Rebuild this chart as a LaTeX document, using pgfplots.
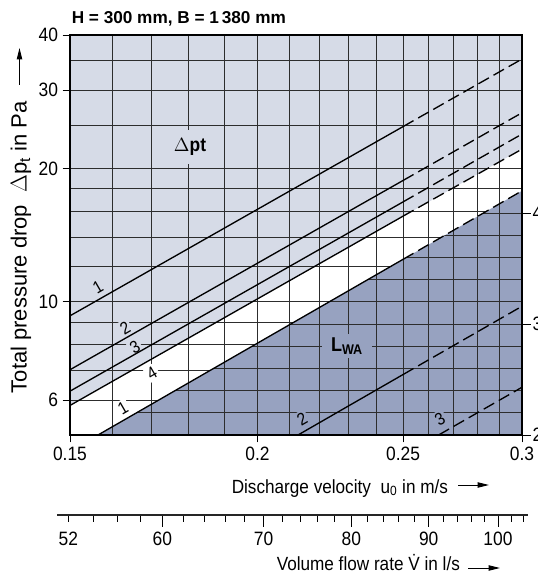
\documentclass[border=0pt]{standalone}
\usepackage{fontspec}
\setmainfont{Liberation Sans}[FakeStretch=0.9]
\newfontfamily\plainfont{Liberation Sans}
\usepackage{pgfplots}
\pgfplotsset{compat=1.18}
\usetikzlibrary{arrows.meta}
\definecolor{lav}{RGB}{214,219,231}
\definecolor{dark}{RGB}{151,162,192}
\definecolor{gridc}{RGB}{45,45,45}
\tikzset{gl/.style={gridc, line width=0.6pt}}
\begin{document}
\begin{tikzpicture}
\path[use as bounding box] (0,0) rectangle (402.75pt,432pt);

% ---------- Axis A: background, white band, pressure grid
\begin{axis}[at={(52.5pt,105.75pt)}, anchor=south west, scale only axis,
  width=339pt, height=300pt, xmode=log, xmin=0.15, xmax=0.3,
  ymode=log, ymin=5, ymax=40,
  axis on top,
  xtick={0.15,0.2,0.25,0.3},
  minor xtick={0.16,0.17,0.18,0.19,0.21,0.22,0.23,0.24,0.26,0.27,0.28,0.29},
  ytick={6,10,20,30,40},
  minor ytick={7,8,9,12,14,16,18,25,35},
  grid=both, major grid style={gl}, minor grid style={gl},
  xticklabels={}, yticklabels={},
  major tick length=0pt, minor tick length=0pt,
  axis line style={draw=none},
  axis background/.style={fill=lav},
]
\addplot[fill=white, draw=none] coordinates {(0.15,5) (0.15,5.83) (0.3,22.1) (0.3,5)} -- cycle;
\end{axis}

% ---------- Axis B: sound power level L_WA in dB
\begin{axis}[at={(52.5pt,105.75pt)}, anchor=south west, scale only axis,
  width=339pt, height=300pt, xmode=log, xmin=0.15, xmax=0.3,
  ymin=20, ymax=56.04,
  axis x line=none, axis y line*=right,
  ytick={20,30,40}, yticklabels={20,30,40},
  tick align=outside, major tick length=6.5pt,
  tick style={black, line width=0.6pt},
  y axis line style={draw=none},
  yticklabel style={font=\fontsize{14.5}{16}\selectfont, anchor=west, xshift=-2pt},
]
\addplot[fill=dark, draw=none] coordinates {(0.1566,20) (0.3,42.0) (0.3,20)} -- cycle;
\begin{scope}
\clip (axis cs:0.1566,20) -- (axis cs:0.3,42.0) -- (axis cs:0.3,20) -- cycle;
\pgfplotsinvokeforeach{22,24,26,28,30,32,34,36,38,40,42}{\draw[gl] (axis cs:0.15,#1) -- (axis cs:0.3,#1);}
\pgfplotsinvokeforeach{0.16,0.17,0.18,0.19,0.2,0.21,0.22,0.23,0.24,0.25,0.26,0.27,0.28,0.29}{\draw[gl] (axis cs:#1,20) -- (axis cs:#1,56);}
\end{scope}
\addplot[black, line width=1pt] coordinates {(0.1566,20) (0.25,35.83)};
\addplot[black, line width=1pt, dash pattern=on 9pt off 4pt] coordinates {(0.25,35.83) (0.3,42.0)};
\addplot[black, line width=1pt] coordinates {(0.2128,20) (0.25,25.45)};
\addplot[black, line width=1pt, dash pattern=on 9pt off 4pt] coordinates {(0.25,25.45) (0.3,31.6)};
\addplot[black, line width=1pt, dash pattern=on 9pt off 4pt] coordinates {(0.264,20) (0.3,24.3)};
\end{axis}

% ---------- curve labels (pixel coordinates)
\begin{scope}[x=0.75pt, y=-0.75pt, shift={(0pt,432pt)}]
\tikzset{lbl/.style={font=\fontsize{13}{14}\selectfont, rotate=30, inner sep=1.5pt}}
\node[lbl, fill=lav] at (98,287) {1};
\node[lbl, fill=lav] at (125,328) {2};
\node[lbl, fill=lav] at (135,347) {3};
\node[lbl, fill=white] at (152,373) {4};
\node[lbl, fill=white] at (123,408) {1};
\node[lbl, fill=dark] at (302,419) {2};
\node[lbl, fill=dark] at (440,419) {3};
\node[fill=lav, font=\bfseries\fontsize{14.5}{16}\selectfont, inner xsep=3pt, inner ysep=6pt] at (190,147) {$\Delta$pt};
\node[fill=dark, font=\bfseries\fontsize{15}{16}\selectfont, inner xsep=7pt, inner ysep=3pt] at (347,346) {L\textsubscript{WA}};
\end{scope}

% ---------- Axis C: pressure drop curves, frame, ticks
\begin{axis}[at={(52.5pt,105.75pt)}, anchor=south west, scale only axis,
  width=339pt, height=300pt, xmode=log, xmin=0.15, xmax=0.3,
  ymode=log, ymin=5, ymax=40,
  xtick={0.15,0.2,0.25,0.3}, xticklabels={0.15,0.2,0.25,0.3},
  ytick={6,10,20,30,40}, yticklabels={6,10,20,30,40},
  minor tick length=0pt,
  xtick pos=left, ytick pos=left, tick align=outside,
  major tick length=5.5pt,
  tick style={black, line width=0.6pt},
  axis line style={black, line width=1.2pt},
  ticklabel style={font=\fontsize{14.5}{16}\selectfont},
]
\addplot[black, line width=1pt] coordinates {(0.15,9.29) (0.25,24.85)};
\addplot[black, line width=1pt, dash pattern=on 9pt off 4pt] coordinates {(0.25,24.85) (0.3,35.3)};
\addplot[black, line width=1pt] coordinates {(0.15,7.02) (0.25,18.78)};
\addplot[black, line width=1pt, dash pattern=on 9pt off 4pt] coordinates {(0.25,18.78) (0.3,26.7)};
\addplot[black, line width=1pt] coordinates {(0.15,6.28) (0.25,16.80)};
\addplot[black, line width=1pt, dash pattern=on 9pt off 4pt] coordinates {(0.25,16.80) (0.3,23.9)};
\addplot[black, line width=1pt] coordinates {(0.15,5.83) (0.25,15.60)};
\addplot[black, line width=1pt, dash pattern=on 9pt off 4pt] coordinates {(0.25,15.60) (0.3,22.1)};
\end{axis}

% ---------- Axis D: volume flow rate scale
\begin{axis}[at={(45pt,45.75pt)}, anchor=south west, scale only axis,
  width=352.5pt, height=10pt, xmode=log, xmin=51.35, xmax=105.0,
  axis y line=none, axis x line*=bottom,
  x axis line style={draw=none},
  ymin=0, ymax=1,
  xtick={60,70,80,90,100}, xticklabels={60,70,80,90,100},
  minor xtick={52,54,56,58,62,64,66,68,72,74,76,78,82,84,86,88,92,94,96,98,102,104},
  extra x ticks={52}, extra x tick labels={52},
  extra x tick style={major tick length=-5pt},
  tick align=inside, major tick length=-8.8pt, minor tick length=-5pt,
  tick style={black, line width=0.6pt},
  xticklabel style={font=\fontsize{14.5}{16}\selectfont, yshift=-9.5pt},
]
\end{axis}

% ---------- texts and arrows
\begin{scope}[x=0.75pt, y=-0.75pt, shift={(0pt,432pt)}]
\draw[black!85, line width=1.3pt] (57,515) -- (528,515);
\node[anchor=base west, inner sep=0, font=\plainfont\bfseries\fontsize{12.9}{14}\selectfont] at (71.5,23.3) {H = 300 mm, B = 1\,380 mm};
\node[anchor=base west, inner sep=0, font=\fontsize{14.3}{16}\selectfont] at (231.5,493) {Discharge velocity\ \ u\textsubscript{0} in m/s};
\draw[line width=0.7pt, -{Triangle[length=8.5pt,width=4pt]}] (458,485) -- (489,485);
\node[anchor=base west, inner sep=0, font=\fontsize{14.3}{16}\selectfont] at (276.5,570) {Volume flow rate \.{V} in l/s};
\draw[line width=0.7pt, -{Triangle[length=8.5pt,width=4pt]}] (468,568) -- (500,568);
\node[anchor=base west, inner sep=0, rotate=90, font=\plainfont\fontsize{16.5}{18}\selectfont] at (26.7,393.5) {Total pressure drop\ \ $\Delta$p\textsubscript{t} in Pa};
\draw[line width=0.7pt, -{Triangle[length=8.5pt,width=4pt]}] (19.5,85) -- (19.5,48);
\end{scope}
\end{tikzpicture}
\end{document}
